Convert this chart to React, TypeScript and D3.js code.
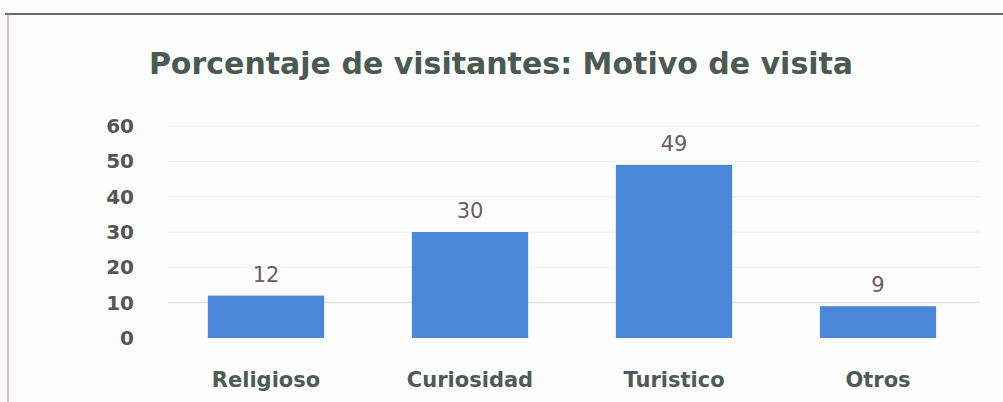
import React, { useRef, useEffect } from 'react';
import * as d3 from 'd3';

const categories = ['Religioso', 'Curiosidad', 'Turistico', 'Otros'];
const values = [12, 30, 49, 9];
const yTicks = [0, 10, 20, 30, 40, 50, 60];
const chartTitle = 'Porcentaje de visitantes: Motivo de visita';

const W = 1003;
const H = 402;

const App = () => {
    const svgRef = useRef<SVGSVGElement>(null);

    useEffect(() => {
        const svg = d3.select(svgRef.current)
            .attr('width', W)
            .attr('height', H);

        svg.selectAll('*').remove();

        const font = "'DejaVu Sans', 'Open Sans', sans-serif";

        // marco del gráfico
        svg.append('rect').attr('width', W).attr('height', H).attr('fill', '#fdfdfd');
        svg.append('line')
            .attr('x1', 5).attr('x2', W).attr('y1', 14).attr('y2', 14)
            .attr('stroke', '#6a6a6a').attr('stroke-width', 2);
        svg.append('line')
            .attr('x1', 8).attr('x2', 8).attr('y1', 14).attr('y2', H)
            .attr('stroke', '#9a8a8e').attr('stroke-width', 1);

        const x = d3.scaleBand()
            .domain(categories)
            .range([164, 980])
            .paddingInner(0.43)
            .paddingOuter(0.215);

        const y = d3.scaleLinear()
            .domain([0, 60])
            .range([338, 126]);

        // líneas de cuadrícula
        svg.append('g')
            .selectAll('line')
            .data(yTicks.filter(t => t > 0))
            .enter()
            .append('line')
            .attr('x1', 168).attr('x2', 980)
            .attr('y1', d => y(d)).attr('y2', d => y(d))
            .attr('stroke', d => d === 10 ? '#d8d8d8' : '#eeeeee')
            .attr('stroke-width', 1);

        // eje Y
        const yAxis = d3.axisLeft(y).tickValues(yTicks).tickSize(0).tickPadding(0);
        const gy = svg.append('g')
            .attr('transform', 'translate(134,0)')
            .call(yAxis);
        gy.select('.domain').remove();
        gy.selectAll('text')
            .attr('font-family', font)
            .attr('font-size', 20)
            .attr('font-weight', 700)
            .attr('fill', '#555555');

        // barras
        svg.append('g')
            .selectAll('rect')
            .data(values)
            .enter()
            .append('rect')
            .attr('x', (d, i) => x(categories[i]) as number)
            .attr('y', d => y(d))
            .attr('width', x.bandwidth())
            .attr('height', d => y(0) - y(d))
            .attr('fill', '#4a87d9');

        // etiquetas de valores
        svg.append('g')
            .selectAll('text')
            .data(values)
            .enter()
            .append('text')
            .attr('x', (d, i) => (x(categories[i]) as number) + x.bandwidth() / 2)
            .attr('y', d => y(d) - 14)
            .attr('text-anchor', 'middle')
            .attr('font-family', font)
            .attr('font-size', 21)
            .attr('font-weight', 400)
            .attr('fill', '#6e5a62')
            .text(d => d);

        // eje X
        const xAxis = d3.axisBottom(x).tickSize(0).tickPadding(0);
        const gx = svg.append('g')
            .attr('transform', 'translate(0,372)')
            .call(xAxis);
        gx.select('.domain').remove();
        gx.selectAll('text')
            .attr('font-family', font)
            .attr('font-size', 21)
            .attr('font-weight', 700)
            .attr('fill', '#4d5a55');

        // título
        svg.append('text')
            .attr('x', 501)
            .attr('y', 74)
            .attr('text-anchor', 'middle')
            .attr('font-family', font)
            .attr('font-size', 30)
            .attr('font-weight', 700)
            .attr('fill', '#4a5a52')
            .text(chartTitle);

    }, []);

    return (
        <svg ref={svgRef} style={{ position: 'absolute', left: 0, top: 0 }}></svg>
    );
};

export default App;
